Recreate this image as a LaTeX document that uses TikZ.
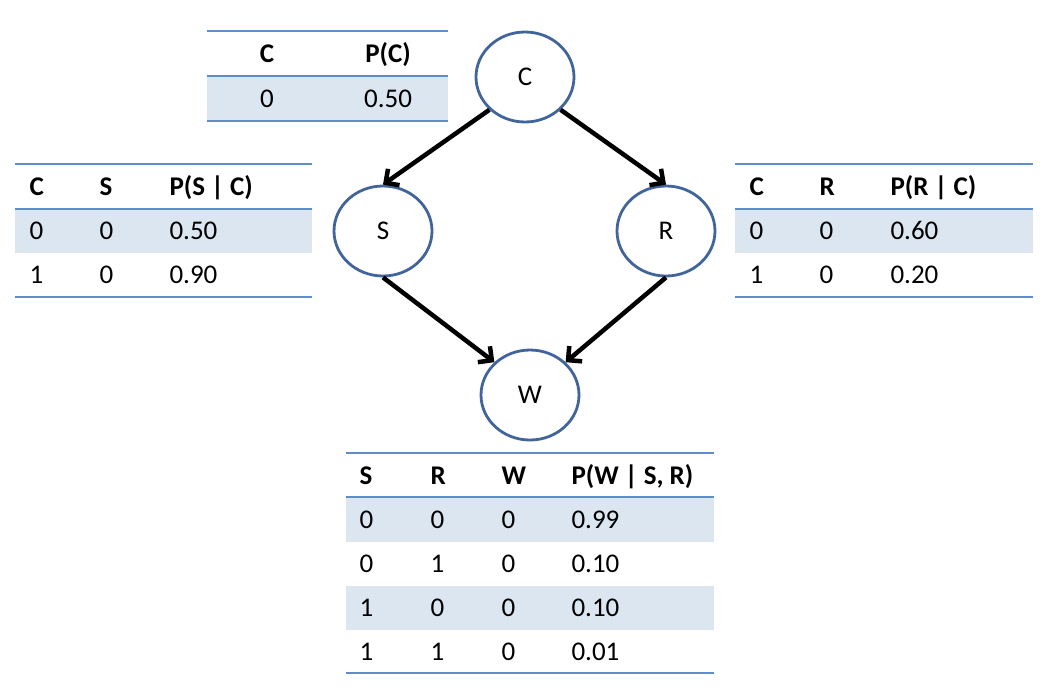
\documentclass[tikz,border=0pt]{standalone}
\usepackage{fontspec}
\setmainfont{Carlito}
\usetikzlibrary{arrows.meta,shapes.geometric}
\definecolor{nodeblue}{HTML}{41659A}
\definecolor{ruleblue}{HTML}{5F8DC8}
\definecolor{bandblue}{HTML}{DCE6F1}
\begin{document}
\begin{tikzpicture}[x=1pt, y=-1pt,
	font=\fontsize{27}{32}\selectfont,
	var/.style={ellipse, draw=nodeblue, line width=2.8pt, minimum width=98pt, minimum height=90pt, inner sep=0pt},
	edge/.style={line width=4.5pt, -{Straight Barb[length=10pt, width=20pt]}},
	rule/.style={ruleblue, line width=1.5pt},
	band/.style={fill=bandblue},
	hd/.style={anchor=base west, font=\fontsize{27}{32}\selectfont\bfseries},
	cell/.style={anchor=base west}]
	\useasboundingbox (0,0) rectangle (1048,694);
	% network
	\node[var] (C) at (525,77) {C};
	\node[var] (S) at (383,231) {S};
	\node[var] (R) at (666,231) {R};
	\node[var] (W) at (530,395) {W};
	\draw[edge] (C.south west) -- (S.north);
	\draw[edge] (C.south east) -- (R.north);
	\draw[edge] (S.south) -- (W.north west);
	\draw[edge] (R.south) -- (W.north east);
	% P(C)
	\fill[band] (207,76) rectangle (448,121);
	\foreach \y in {31,76,121} \draw[rule] (207,\y) -- (448,\y);
	\node[hd, anchor=base] (pc-h1) at (267,62) {C};
	\node[hd, anchor=base] (pc-h2) at (388,62) {P(C)};
	\node[cell, anchor=base] (pc-1-1) at (267,107) {0};
	\node[cell, anchor=base] (pc-1-2) at (388,107) {0.50};
	% P(S | C)
	\fill[band] (15,209) rectangle (312,253);
	\foreach \y in {164,209,297} \draw[rule] (15,\y) -- (312,\y);
	\node[hd] (sc-h1) at (26,195) {C};
	\node[hd] (sc-h2) at (96,195) {S};
	\node[hd] (sc-h3) at (166,195) {P(S | C)};
	\foreach \c/\s/\p [count=\r] in {0/0/0.50, 1/0/0.90} {
		\node[cell] (sc-\r-1) at (26,{195+44*\r}) {\c};
		\node[cell] (sc-\r-2) at (96,{195+44*\r}) {\s};
		\node[cell] (sc-\r-3) at (166,{195+44*\r}) {\p};
	}
	% P(R | C)
	\fill[band] (735,209) rectangle (1033,253);
	\foreach \y in {164,209,297} \draw[rule] (735,\y) -- (1033,\y);
	\node[hd] (rc-h1) at (746,195) {C};
	\node[hd] (rc-h2) at (816,195) {R};
	\node[hd] (rc-h3) at (887,195) {P(R | C)};
	\foreach \c/\s/\p [count=\r] in {0/0/0.60, 1/0/0.20} {
		\node[cell] (rc-\r-1) at (746,{195+44*\r}) {\c};
		\node[cell] (rc-\r-2) at (816,{195+44*\r}) {\s};
		\node[cell] (rc-\r-3) at (887,{195+44*\r}) {\p};
	}
	% P(W | S, R)
	\fill[band] (346,497) rectangle (714,542);
	\fill[band] (346,586) rectangle (714,630);
	\foreach \y in {453,497,673} \draw[rule] (346,\y) -- (714,\y);
	\node[hd] (wsr-h1) at (356,484) {S};
	\node[hd] (wsr-h2) at (427,484) {R};
	\node[hd] (wsr-h3) at (498,484) {W};
	\node[hd] (wsr-h4) at (568,484) {P(W | S, R)};
	\foreach \s/\rr/\w/\p [count=\r] in {0/0/0/0.99, 0/1/0/0.10, 1/0/0/0.10, 1/1/0/0.01} {
		\node[cell] (wsr-\r-1) at (356,{484+44.2*\r}) {\s};
		\node[cell] (wsr-\r-2) at (427,{484+44.2*\r}) {\rr};
		\node[cell] (wsr-\r-3) at (498,{484+44.2*\r}) {\w};
		\node[cell] (wsr-\r-4) at (568,{484+44.2*\r}) {\p};
	}
\end{tikzpicture}
\end{document}
